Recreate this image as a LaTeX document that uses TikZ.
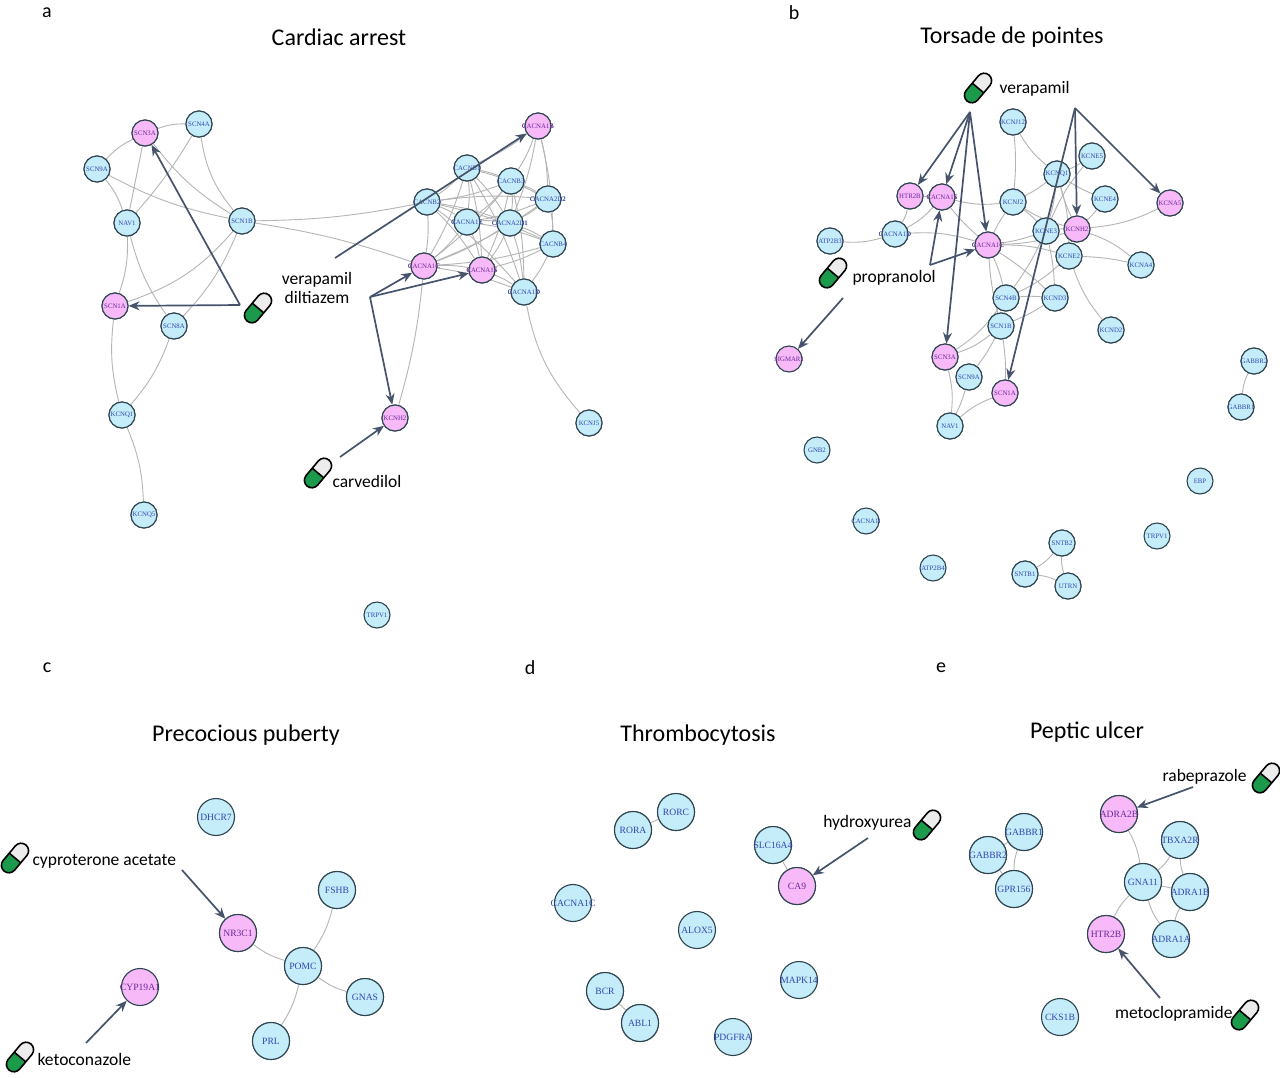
\documentclass[tikz,border=0pt]{standalone}
\usepackage{fontspec}
\setmainfont{Carlito}
\newfontfamily\nodefont{Liberation Serif}
\usetikzlibrary{arrows.meta}
\definecolor{nblue}{HTML}{C4ECF9}
\definecolor{npink}{HTML}{F7B9F7}
\definecolor{nedge}{HTML}{2E4450}
\definecolor{tblue}{HTML}{3446B0}
\definecolor{tpink}{HTML}{6A2A9A}
\definecolor{arr}{HTML}{45546A}
\definecolor{pgreen}{HTML}{1B9A4B}
\definecolor{egray}{HTML}{B5B5B5}
\tikzset{
 base/.style={circle,draw=nedge,line width=1.1pt,inner sep=-10pt},
 sm/.style={base,minimum size=26pt,font=\nodefont\fontsize{6.8}{7}\selectfont},
 lg/.style={base,minimum size=37pt,font=\nodefont\fontsize{9.6}{10}\selectfont},
 bs/.style={sm,fill=nblue,text=tblue}, ps/.style={sm,fill=npink,text=tpink},
 bl/.style={lg,fill=nblue,text=tblue}, pl/.style={lg,fill=npink,text=tpink},
 e/.style={draw=egray,line width=0.9pt},
 ar/.style={draw=arr,line width=1.7pt,-{Stealth[length=11pt,width=9pt]}},
 ttl/.style={font=\fontsize{24}{26}\selectfont},
 lab/.style={font=\fontsize{20}{22}\selectfont},
 drug/.style={font=\fontsize{17.5}{19}\selectfont},
 pill/.pic={
  \begin{scope}[rotate=-40]
   \begin{scope}
    \clip[rounded corners=7.5pt] (-7.5,-17) rectangle (7.5,17);
    \fill[gray!15] (-7.5,-17) rectangle (7.5,0);
    \fill[pgreen] (-7.5,0) rectangle (7.5,17);
   \end{scope}
   \draw[line width=1.6pt,rounded corners=7.5pt] (-7.5,-17) rectangle (7.5,17);
   \draw[line width=1.6pt] (-7.5,0) -- (7.5,0);
  \end{scope}}
}
\begin{document}
\begin{tikzpicture}[x=1pt,y=-1pt]
\useasboundingbox[fill=white] (0,0) rectangle (1280,1077);
% titles
\node[lab] at (47,13) {a}; \node[lab] at (794,13) {b};
\node[lab] at (47,668) {c}; \node[lab] at (530,668) {d}; \node[lab] at (941,668) {e};
\node[ttl] (ta) at (339,37) {Cardiac arrest};
\node[ttl] (tb) at (1012,37) {Torsade de pointes};
\node[ttl] (tc) at (246,735) {Precocious puberty};
\node[ttl] (td) at (698,735) {Thrombocytosis};
\node[ttl] (te) at (1087,732) {Peptic ulcer};

% ===== panel a nodes
\node[ps] (aSCN3A) at (145,133) {SCN3A};
\node[bs] (aSCN4A) at (199,124) {SCN4A};
\node[bs] (aSCN9A) at (97,169) {SCN9A};
\node[bs] (aNAV1) at (127,223) {NAV1};
\node[bs] (aSCN1B) at (242,221) {SCN1B};
\node[ps] (aSCN1A) at (115,306) {SCN1A};
\node[bs] (aSCN8A) at (174,326) {SCN8A};
\node[bs] (aKCNQ1) at (122,415) {KCNQ1};
\node[bs] (aKCNQ5) at (144,515) {KCNQ5};
\node[bs] (aTRPV1) at (377,615) {TRPV1};
\node[ps] (aCACNA1B) at (538,126) {CACNA1B};
\node[bs] (aCACNB1) at (467,168) {CACNB1};
\node[bs] (aCACNB3) at (511,181) {CACNB3};
\node[bs] (aCACNB2) at (427,202) {CACNB2};
\node[bs] (aCACNA2D2) at (548,199) {CACNA2D2};
\node[bs] (aCACNA1E) at (467,222) {CACNA1E};
\node[bs] (aCACNA2D1) at (510,223) {CACNA2D1};
\node[bs] (aCACNB4) at (553,244) {CACNB4};
\node[ps] (aCACNA1C) at (424,266) {CACNA1C};
\node[ps] (aCACNA1S) at (482,270) {CACNA1S};
\node[bs] (aCACNA1D) at (524,292) {CACNA1D};
\node[ps] (aKCNH2) at (395,418) {KCNH2};
\node[bs] (aKCNJ5) at (589,423) {KCNJ5};
% panel a edges
\foreach \u/\v/\b in {SCN3A/SCN4A/10,SCN3A/SCN9A/-10,SCN3A/NAV1/0,SCN3A/SCN1B/-10,SCN4A/NAV1/5,SCN4A/SCN1B/-15,SCN9A/NAV1/10,SCN9A/SCN1B/-8,NAV1/SCN1A/10,NAV1/SCN8A/-10,SCN1B/SCN1A/15,SCN1B/SCN8A/10,SCN1A/KCNQ1/-10,SCN8A/KCNQ1/10,KCNQ1/KCNQ5/10,SCN1B/CACNB2/-5,SCN1B/CACNA1C/5,CACNA1C/KCNH2/5,CACNA1D/KCNJ5/-15}
  \draw[e] (a\u) to[bend left=\b] (a\v);
\foreach \u/\v in {CACNA1B/CACNB1,CACNA1B/CACNB3,CACNA1B/CACNA2D2,CACNA1B/CACNB4,CACNA1B/CACNA2D1,CACNB1/CACNB3,CACNB1/CACNB2,CACNB1/CACNA2D2,CACNB1/CACNA1E,CACNB1/CACNA2D1,CACNB1/CACNA1C,CACNB1/CACNA1S,CACNB1/CACNA1D,CACNB3/CACNB2,CACNB3/CACNA2D2,CACNB3/CACNA1E,CACNB3/CACNA2D1,CACNB3/CACNA1C,CACNB3/CACNA1S,CACNB3/CACNA1D,CACNB2/CACNA2D2,CACNB2/CACNA1E,CACNB2/CACNA2D1,CACNB2/CACNB4,CACNB2/CACNA1C,CACNB2/CACNA1S,CACNB2/CACNA1D,CACNA2D2/CACNA1E,CACNA2D2/CACNA2D1,CACNA2D2/CACNB4,CACNA2D2/CACNA1C,CACNA1E/CACNA2D1,CACNA1E/CACNB4,CACNA1E/CACNA1C,CACNA1E/CACNA1S,CACNA2D1/CACNB4,CACNA2D1/CACNA1C,CACNA2D1/CACNA1S,CACNA2D1/CACNA1D,CACNB4/CACNA1C,CACNB4/CACNA1S,CACNB4/CACNA1D,CACNA1C/CACNA1S,CACNA1C/CACNA1D,CACNA1S/CACNA1D}
  \draw[e] (a\u) to[bend left=6] (a\v);
\foreach \n in {SCN4A,SCN9A,NAV1,SCN1B,SCN8A,KCNQ1,KCNQ5,CACNB1,CACNB3,CACNB2,CACNA2D2,CACNA1E,CACNA2D1,CACNB4,CACNA1D,KCNJ5}
  \node[bs] at (a\n) {\n};
\foreach \n in {SCN3A,SCN1A,CACNA1B,CACNA1C,CACNA1S,KCNH2}
  \node[ps] at (a\n) {\n};
% drugs a
\pic at (258,308) {pill};
\node[drug,align=center] (averd) at (317,288) {verapamil\\diltiazem};
\coordinate (aO1) at (240,305);
\coordinate (aO2) at (335,258);
\coordinate (aO3) at (370,297);
\draw[ar] (aO1) -- (aSCN1A);
\draw[ar] (aO1) -- (aSCN3A);
\draw[ar] (aO2) -- (aCACNA1B);
\draw[ar] (aO3) -- (aCACNA1C);
\draw[ar] (aO3) -- (aCACNA1S);
\draw[ar] (aO3) -- (aKCNH2);
\pic at (318,473) {pill};
\node[drug,anchor=west] (acarv) at (329,481) {carvedilol};
\coordinate (aO4) at (340,457);
\draw[ar] (aO4) -- (aKCNH2);

% ===== panel b
\node[bs] (bKCNJ12) at (1013,122) {KCNJ12};
\node[bs] (bKCNE5) at (1092,156) {KCNE5};
\node[bs] (bKCNQ1) at (1057,174) {KCNQ1};
\node[bs] (bKCNE4) at (1105,199) {KCNE4};
\node[bs] (bKCNJ2) at (1013,202) {KCNJ2};
\node[bs] (bKCNE3) at (1046,231) {KCNE3};
\node[ps] (bKCNH2) at (1077,229) {KCNH2};
\node[bs] (bKCNE2) at (1069,256) {KCNE2};
\node[ps] (bKCNA5) at (1170,203) {KCNA5};
\node[bs] (bKCNA4) at (1141,265) {KCNA4};
\node[bs] (bATP2B3) at (830,241) {ATP2B3};
\node[bs] (bCACNA1D) at (895,234) {CACNA1D};
\node[ps] (bHTR2B) at (910,196) {HTR2B};
\node[ps] (bCACNA1S) at (942,197) {CACNA1S};
\node[ps] (bCACNA1C) at (988,245) {CACNA1C};
\node[bs] (bSCN4B) at (1006,298) {SCN4B};
\node[bs] (bKCND3) at (1055,298) {KCND3};
\node[bs] (bSCN1B) at (1001,326) {SCN1B};
\node[bs] (bKCND2) at (1111,330) {KCND2};
\node[ps] (bSCN3A) at (945,357) {SCN3A};
\node[bs] (bSCN9A) at (969,377) {SCN9A};
\node[ps] (bSCN1A) at (1005,393) {SCN1A};
\node[bs] (bNAV1) at (950,426) {NAV1};
\node[ps] (bSIGMAR1) at (789,359) {SIGMAR1};
\node[bs] (bGNB2) at (817,450) {GNB2};
\node[bs] (bGABBR2) at (1254,361) {GABBR2};
\node[bs] (bGABBR1) at (1241,407) {GABBR1};
\node[bs] (bEBP) at (1200,481) {EBP};
\node[bs] (bCACNA1I) at (866,521) {CACNA1I};
\node[bs] (bTRPV1) at (1157,536) {TRPV1};
\node[bs] (bSNTB2) at (1062,543) {SNTB2};
\node[bs] (bSNTB1) at (1025,574) {SNTB1};
\node[bs] (bUTRN) at (1068,586) {UTRN};
\node[bs] (bATP2B4) at (933,568) {ATP2B4};
\foreach \u/\v/\b in {HTR2B/CACNA1S/0,HTR2B/CACNA1D/10,CACNA1S/CACNA1D/10,ATP2B3/CACNA1D/-10,CACNA1D/CACNA1C/10,CACNA1S/CACNA1C/-5,CACNA1S/KCNJ2/-10,CACNA1C/KCNJ2/5,CACNA1C/KCNE3/-5,CACNA1C/KCNH2/-8,CACNA1C/KCNE2/8,CACNA1C/SCN4B/5,CACNA1C/SCN1B/-5,CACNA1C/KCND3/5,KCNJ12/KCNQ1/-10,KCNJ12/KCNJ2/5,KCNQ1/KCNE5/-5,KCNQ1/KCNJ2/5,KCNQ1/KCNE3/5,KCNQ1/KCNH2/-5,KCNQ1/KCNE2/8,KCNE4/KCNH2/5,KCNE4/KCNQ1/5,KCNJ2/KCNE3/5,KCNJ2/KCNH2/-8,KCNE3/KCNH2/5,KCNH2/KCNE2/5,KCNH2/KCNA5/-10,KCNH2/KCNA4/10,KCNE2/KCNA4/5,KCNE2/KCND2/-10,KCNE2/SCN4B/8,KCND3/SCN1B/5,KCNE3/SCN4B/5,SCN4B/SCN1B/5,SCN4B/SCN3A/10,SCN1B/SCN3A/10,SCN1B/SCN9A/5,SCN1B/SCN1A/5,SCN3A/NAV1/10,SCN9A/NAV1/5,NAV1/SCN1A/10,KCNE5/KCNE3/-8,GABBR2/GABBR1/-10,SNTB2/SNTB1/10,SNTB2/UTRN/-10,SNTB1/UTRN/10,SCN4B/KCND3/5,KCNE3/KCND3/5}
  \draw[e] (b\u) to[bend left=\b] (b\v);
\foreach \n in {KCNJ12,KCNE5,KCNQ1,KCNE4,KCNJ2,KCNE3,KCNE2,KCNA4,ATP2B3,CACNA1D,SCN4B,KCND3,SCN1B,KCND2,SCN9A,NAV1,GABBR2,GABBR1,SNTB2,SNTB1,UTRN}
  \node[bs] at (b\n) {\n};
\foreach \n in {KCNH2,KCNA5,HTR2B,CACNA1S,CACNA1C,SCN3A,SCN1A}
  \node[ps] at (b\n) {\n};
\pic at (978,88) {pill};
\node[drug,anchor=west] (bver) at (996,89) {verapamil};
\coordinate (bO1) at (970,112);
\coordinate (bO2) at (1075,108);
\coordinate (bO3) at (930,265);
\coordinate (bO4) at (843,298);
\foreach \n in {HTR2B,CACNA1S,CACNA1C,SCN3A} \draw[ar] (bO1) -- (b\n);
\foreach \n in {KCNH2,KCNA5,SCN1A} \draw[ar] (bO2) -- (b\n);
\draw[ar] (bO3) -- (bCACNA1S);
\draw[ar] (bO3) -- (bCACNA1C);
\draw[ar] (bO4) -- (bSIGMAR1);
\pic at (833,273) {pill};
\node[drug,anchor=west] (bprop) at (849,278) {propranolol};

% ===== panel c
\node[bl] (cDHCR7) at (216,817) {DHCR7};
\node[pl] (cNR3C1) at (238,933) {NR3C1};
\node[bl] (cFSHB) at (337,890) {FSHB};
\node[bl] (cPOMC) at (303,966) {POMC};
\node[bl] (cGNAS) at (365,997) {GNAS};
\node[bl] (cPRL) at (271,1041) {PRL};
\node[pl] (cCYP19A1) at (140,987) {CYP19A1};
\foreach \u/\v/\b in {NR3C1/POMC/-10,FSHB/POMC/10,POMC/GNAS/-10,POMC/PRL/10}
  \draw[e] (c\u) to[bend left=\b] (c\v);
\foreach \n in {POMC,FSHB,GNAS,PRL} \node[bl] at (c\n) {\n};
\node[pl] at (cNR3C1) {NR3C1};
\pic at (15,858) {pill};
\node[drug,anchor=west] (ccyp) at (29,861) {cyproterone acetate};
\coordinate (cO1) at (182,870);
\draw[ar] (cO1) -- (cNR3C1);
\pic at (20,1057) {pill};
\node[drug,anchor=west] (cket) at (34,1059) {ketoconazole};
\coordinate (cO2) at (86,1043);
\draw[ar] (cO2) -- (cCYP19A1);

% ===== panel d
\node[bl] (dRORA) at (633,830) {RORA};
\node[bl] (dRORC) at (676,812) {RORC};
\node[bl] (dSLC) at (773,845) {SLC16A4};
\node[pl] (dCA9) at (797,886) {CA9};
\node[bl] (dCACNA1C) at (573,903) {CACNA1C};
\node[bl] (dALOX5) at (697,930) {ALOX5};
\node[bl] (dBCR) at (605,991) {BCR};
\node[bl] (dABL1) at (640,1023) {ABL1};
\node[bl] (dMAPK14) at (799,980) {MAPK14};
\node[bl] (dPDGFRA) at (733,1037) {PDGFRA};
\draw[e] (dRORA) -- (dRORC);
\draw[e] (dSLC) -- (dCA9);
\draw[e] (dBCR) -- (dABL1);
\node[bl] at (dRORA) {RORA}; \node[bl] at (dRORC) {RORC};
\node[bl] at (dSLC) {SLC16A4}; \node[pl] at (dCA9) {CA9};
\node[bl] at (dBCR) {BCR}; \node[bl] at (dABL1) {ABL1};
\pic at (927,825) {pill};
\node[drug,anchor=east] (dhyd) at (915,823) {hydroxyurea};
\coordinate (dO1) at (868,838);
\draw[ar] (dO1) -- (dCA9);

% ===== panel e
\node[pl] (eADRA2B) at (1119,814) {ADRA2B};
\node[bl] (eTBXA2R) at (1180,840) {TBXA2R};
\node[bl] (eGABBR1) at (1024,832) {GABBR1};
\node[bl] (eGABBR2) at (988,855) {GABBR2};
\node[bl] (eGPR156) at (1014,889) {GPR156};
\node[bl] (eGNA11) at (1143,882) {GNA11};
\node[bl] (eADRA1B) at (1190,892) {ADRA1B};
\node[pl] (eHTR2B) at (1106,934) {HTR2B};
\node[bl] (eADRA1A) at (1171,939) {ADRA1A};
\node[bl] (eCKS1B) at (1060,1017) {CKS1B};
\foreach \u/\v/\b in {GABBR1/GABBR2/0,GABBR2/GPR156/0,GABBR1/GPR156/-10,ADRA2B/GNA11/10,GNA11/TBXA2R/-10,TBXA2R/ADRA1B/-10,GNA11/ADRA1B/0,GNA11/HTR2B/-10,GNA11/ADRA1A/-10,ADRA1B/ADRA1A/-10}
  \draw[e] (e\u) to[bend left=\b] (e\v);
\foreach \n in {TBXA2R,GABBR1,GABBR2,GPR156,GNA11,ADRA1B,ADRA1A} \node[bl] at (e\n) {\n};
\node[pl] at (eADRA2B) {ADRA2B}; \node[pl] at (eHTR2B) {HTR2B};
\pic at (1266,778) {pill};
\node[drug,anchor=east] (erab) at (1250,777) {rabeprazole};
\coordinate (eO1) at (1193,787);
\draw[ar] (eO1) -- (eADRA2B);
\pic at (1245,1015) {pill};
\node[drug,anchor=east] (emet) at (1236,1014) {metoclopramide};
\coordinate (eO2) at (1160,998);
\draw[ar] (eO2) -- (eHTR2B);
\end{tikzpicture}
\end{document}
